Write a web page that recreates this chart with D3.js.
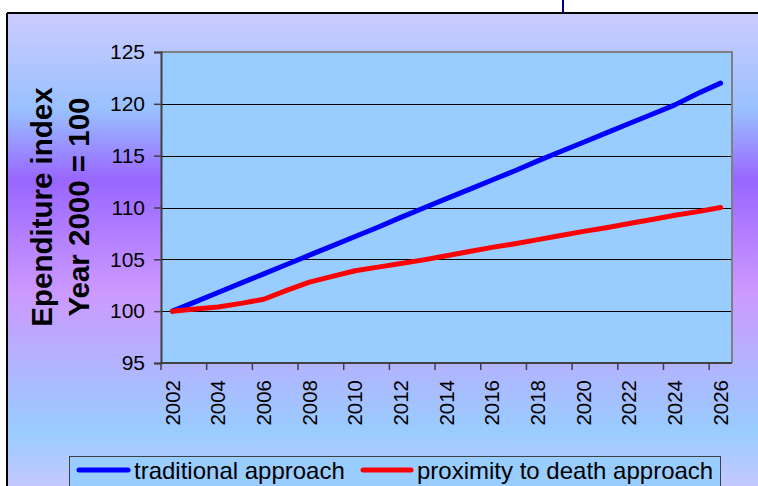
<!DOCTYPE html>
<html>
<head>
<meta charset="utf-8">
<script src="https://cdn.jsdelivr.net/npm/d3@7"></script>
<style>
  html, body { margin: 0; padding: 0; background: #ffffff; }
  svg { display: block; font-family: "Liberation Sans", Arial, sans-serif; }
</style>
</head>
<body>
<svg id="chart" width="758" height="486"></svg>
<script>
// ---- data ----
const years = [2002,2003,2004,2005,2006,2007,2008,2009,2010,2011,2012,2013,2014,
               2015,2016,2017,2018,2019,2020,2021,2022,2023,2024,2025,2026];
const traditional = [100.0,100.9,101.8,102.7,103.6,104.5,105.4,106.3,107.2,108.1,109.05,109.95,110.85,
                     111.75,112.65,113.55,114.5,115.4,116.3,117.2,118.1,119.0,119.9,121.0,122.0];
const proximity = [100.0,100.2,100.4,100.75,101.15,102.0,102.8,103.35,103.9,104.25,104.6,104.95,105.35,
                   105.75,106.15,106.5,106.9,107.3,107.7,108.05,108.45,108.85,109.25,109.6,110.0];
const xTickLabels = [2002,2004,2006,2008,2010,2012,2014,2016,2018,2020,2022,2024,2026];
const yTicks = [95,100,105,110,115,120,125];
const seriesNames = ["traditional approach", "proximity to death approach"];
const seriesColors = ["#0000ff", "#ff0000"];
const yTitle = ["Ependiture index", "Year 2000 = 100"];

// ---- layout ----
const svg = d3.select("#chart");
const plot = {left: 161, right: 732, top: 52, bottom: 363};

const defs = svg.append("defs");
const grad = defs.append("linearGradient").attr("id", "bg")
  .attr("x1", 0).attr("y1", 0).attr("x2", 0).attr("y2", 1);
[[0, "#ccccff"], [0.205, "#99c0ff"], [0.353, "#9966ff"], [0.592, "#cc99ff"],
 [0.882, "#99ccff"], [1, "#c4c8ff"]].forEach(([o, c]) =>
  grad.append("stop").attr("offset", o).attr("stop-color", c));

// chart frame background
svg.append("rect").attr("x", 7).attr("y", 13).attr("width", 751).attr("height", 473)
  .attr("fill", "url(#bg)");
svg.append("line").attr("x1", 7).attr("x2", 758).attr("y1", 13).attr("y2", 13)
  .attr("stroke", "#000").attr("stroke-width", 2);
svg.append("line").attr("x1", 7).attr("x2", 7).attr("y1", 13).attr("y2", 486)
  .attr("stroke", "#000").attr("stroke-width", 2);
svg.append("line").attr("x1", 563).attr("x2", 563).attr("y1", 0).attr("y2", 13)
  .attr("stroke", "#000080").attr("stroke-width", 2);

// scales
const x = d3.scaleBand().domain(years).range([plot.left, plot.right]).padding(0);
const y = d3.scaleLinear().domain([95, 125]).range([plot.bottom, plot.top]);
const cx = d => x(d) + x.bandwidth() / 2;

// plot area
svg.append("rect").attr("x", plot.left).attr("y", plot.top)
  .attr("width", plot.right - plot.left).attr("height", plot.bottom - plot.top)
  .attr("fill", "#99ccff");

// gridlines
svg.append("g").selectAll("line").data(yTicks.filter(v => v > 95 && v < 125)).join("line")
  .attr("x1", plot.left).attr("x2", plot.right)
  .attr("y1", d => Math.round(y(d)) + 0.5).attr("y2", d => Math.round(y(d)) + 0.5)
  .attr("stroke", "#000").attr("stroke-width", 1);

// plot border top & right (gray)
svg.append("path")
  .attr("d", `M${plot.left},${plot.top}H${plot.right}V${plot.bottom}`)
  .attr("fill", "none").attr("stroke", "#808080").attr("stroke-width", 2);

// y axis
const yAxis = svg.append("g").attr("transform", `translate(${plot.left},0)`)
  .call(d3.axisLeft(y).tickValues(yTicks).tickSize(7).tickPadding(9).tickFormat(d3.format("d")));
yAxis.select(".domain").attr("stroke", "#404040").attr("stroke-width", 2);
yAxis.selectAll(".tick line").attr("stroke", "#404040").attr("stroke-width", 1.5);
yAxis.selectAll(".tick text").attr("font-size", 21).attr("fill", "#000")
  .attr("font-family", "'Liberation Sans', Arial, sans-serif");

// x axis line
svg.append("line").attr("x1", plot.left - 1).attr("x2", plot.right)
  .attr("y1", plot.bottom).attr("y2", plot.bottom)
  .attr("stroke", "#404040").attr("stroke-width", 2);
// x ticks at category boundaries every 2 years
svg.append("g").selectAll("line").data(xTickLabels).join("line")
  .attr("x1", d => x(d)).attr("x2", d => x(d))
  .attr("y1", plot.bottom).attr("y2", plot.bottom + 7)
  .attr("stroke", "#404040").attr("stroke-width", 1.5);
svg.append("g").selectAll("text").data(xTickLabels).join("text")
  .attr("transform", d => `translate(${cx(d)},380) rotate(-90)`)
  .attr("text-anchor", "end").attr("dy", "0.35em")
  .attr("font-size", 20.5).attr("fill", "#000")
  .text(d => d);

// y axis title
yTitle.forEach((t, i) => {
  svg.append("text")
    .attr("transform", `translate(${[51.5, 89][i]},207) rotate(-90)`)
    .attr("text-anchor", "middle")
    .attr("font-size", 29.5).attr("font-weight", "bold").attr("fill", "#000")
    .text(t);
});

// lines
const line = d3.line().x((d, i) => cx(years[i])).y(d => y(d));
[traditional, proximity].forEach((s, i) => {
  svg.append("path").datum(s)
    .attr("d", line)
    .attr("fill", "none").attr("stroke", seriesColors[i]).attr("stroke-width", 5)
    .attr("stroke-linecap", "round").attr("stroke-linejoin", "round");
});

// legend
svg.append("rect").attr("x", 69.5).attr("y", 456.5).attr("width", 651).attr("height", 40)
  .attr("fill", "#99ccff").attr("stroke", "#404040").attr("stroke-width", 1);
const legendItems = [
  {x1: 79, x2: 128, tx: 134},
  {x1: 363, x2: 411, tx: 417}
];
legendItems.forEach((it, i) => {
  svg.append("line").attr("x1", it.x1).attr("x2", it.x2).attr("y1", 470).attr("y2", 470)
    .attr("stroke", seriesColors[i]).attr("stroke-width", 5).attr("stroke-linecap", "round");
  svg.append("text").attr("x", it.tx).attr("y", 479)
    .attr("font-size", 24).attr("fill", "#000").text(seriesNames[i]);
});
</script>
</body>
</html>
